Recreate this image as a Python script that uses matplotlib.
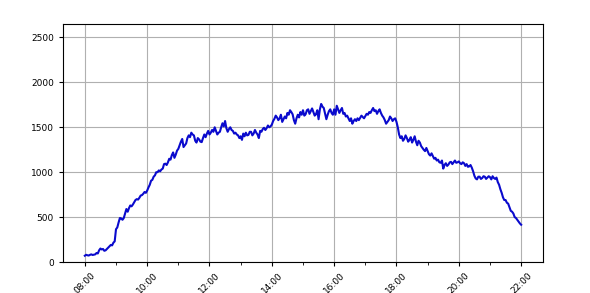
import matplotlib
matplotlib.use("Agg")
import matplotlib.pyplot as plt
import matplotlib.dates as mdates
import pandas as pd

start_time = "2024-01-01 08:00"
step = "150s"  # 2.5 minutes
values = [
    # 08:00-08:57
    70, 80, 75, 72, 80, 85, 78, 82, 85, 100, 95, 130, 150, 140, 145, 125, 130, 145, 160, 175, 190, 185, 215, 230,
    # 09
    365, 385, 440, 490, 485, 470, 490, 540, 590, 560, 600, 630, 620, 640, 665, 690, 700, 695, 715, 740, 745, 760, 780, 770,
    # 10
    795, 830, 860, 905, 915, 950, 965, 1000, 1000, 1020, 1010, 1030, 1040, 1090, 1095, 1080, 1110, 1150, 1140, 1190, 1220, 1160, 1195, 1240,
    # 11
    1260, 1300, 1340, 1370, 1280, 1300, 1320, 1380, 1410, 1390, 1440, 1420, 1410, 1350, 1330, 1380, 1365, 1340, 1335, 1380, 1420, 1390, 1430, 1460,
    # 12
    1420, 1440, 1470, 1450, 1500, 1460, 1420, 1440, 1450, 1500, 1545, 1510, 1570, 1490, 1450, 1480, 1500, 1470, 1460, 1430, 1440, 1420, 1410, 1380,
    # 13
    1400, 1360, 1430, 1400, 1440, 1410, 1415, 1450, 1450, 1410, 1430, 1470, 1440, 1420, 1380, 1460, 1450, 1480, 1495, 1470, 1490, 1520, 1500, 1510,
    # 14
    1530, 1570, 1595, 1630, 1610, 1580, 1600, 1640, 1560, 1590, 1620, 1600, 1660, 1640, 1690, 1670, 1645, 1580, 1540, 1600, 1640, 1610, 1670, 1640,
    # 15
    1690, 1630, 1645, 1690, 1700, 1650, 1680, 1710, 1670, 1630, 1645, 1690, 1590, 1700, 1760, 1730, 1715, 1650, 1590, 1640, 1680, 1700, 1660, 1640,
    # 16
    1700, 1640, 1740, 1700, 1660, 1690, 1715, 1650, 1660, 1620, 1630, 1600, 1570, 1600, 1540, 1570, 1590, 1570, 1600, 1580, 1605, 1630, 1615, 1600,
    # 17
    1625, 1650, 1640, 1670, 1660, 1690, 1715, 1680, 1690, 1650, 1680, 1700, 1660, 1630, 1610, 1580, 1540, 1560, 1580, 1620, 1600, 1570, 1590, 1600,
    # 18
    1560, 1500, 1420, 1380, 1400, 1350, 1370, 1410, 1380, 1340, 1360, 1390, 1330, 1360, 1400, 1340, 1300, 1350, 1330, 1290, 1270, 1250, 1235, 1270,
    # 19
    1235, 1200, 1185, 1210, 1180, 1150, 1160, 1130, 1140, 1110, 1105, 1130, 1040, 1080, 1100, 1070, 1085, 1110, 1115, 1090, 1110, 1130, 1105, 1110,
    # 20
    1120, 1100, 1090, 1110, 1100, 1070, 1090, 1060, 1065, 1080, 1050, 1010, 960, 930, 920, 950, 950, 925, 935, 955, 950, 925, 940, 955,
    # 21
    945, 920, 955, 935, 925, 940, 890, 860, 810, 770, 720, 690, 690, 660, 650, 610, 570, 560, 540, 500, 490, 470, 450, 430,
    # 22:00
    415,
]
y_max = 2650

times = pd.date_range(start_time, periods=len(values), freq=step)

fig = plt.figure(figsize=(5.9, 2.93), dpi=100)
ax = fig.add_axes([0.1068, 0.1058, 0.8135, 0.8122])
ax.plot(times, values, color="#0a0acd", linewidth=1.5)

ax.set_ylim(0, y_max)
ax.xaxis.set_major_locator(mdates.HourLocator(byhour=range(0, 24, 2)))
ax.xaxis.set_minor_locator(mdates.HourLocator())
ax.xaxis.set_major_formatter(mdates.DateFormatter("%H:%M"))
ax.grid(True, which="major", color="#b0b0b0", linewidth=0.8)
ax.tick_params(axis="both", which="major", labelsize=6.5, length=3)
ax.tick_params(axis="x", which="minor", length=2)
for lbl in ax.get_xticklabels():
    lbl.set_rotation(45)
    lbl.set_ha("center")

fig.savefig("out.png", dpi=100)
